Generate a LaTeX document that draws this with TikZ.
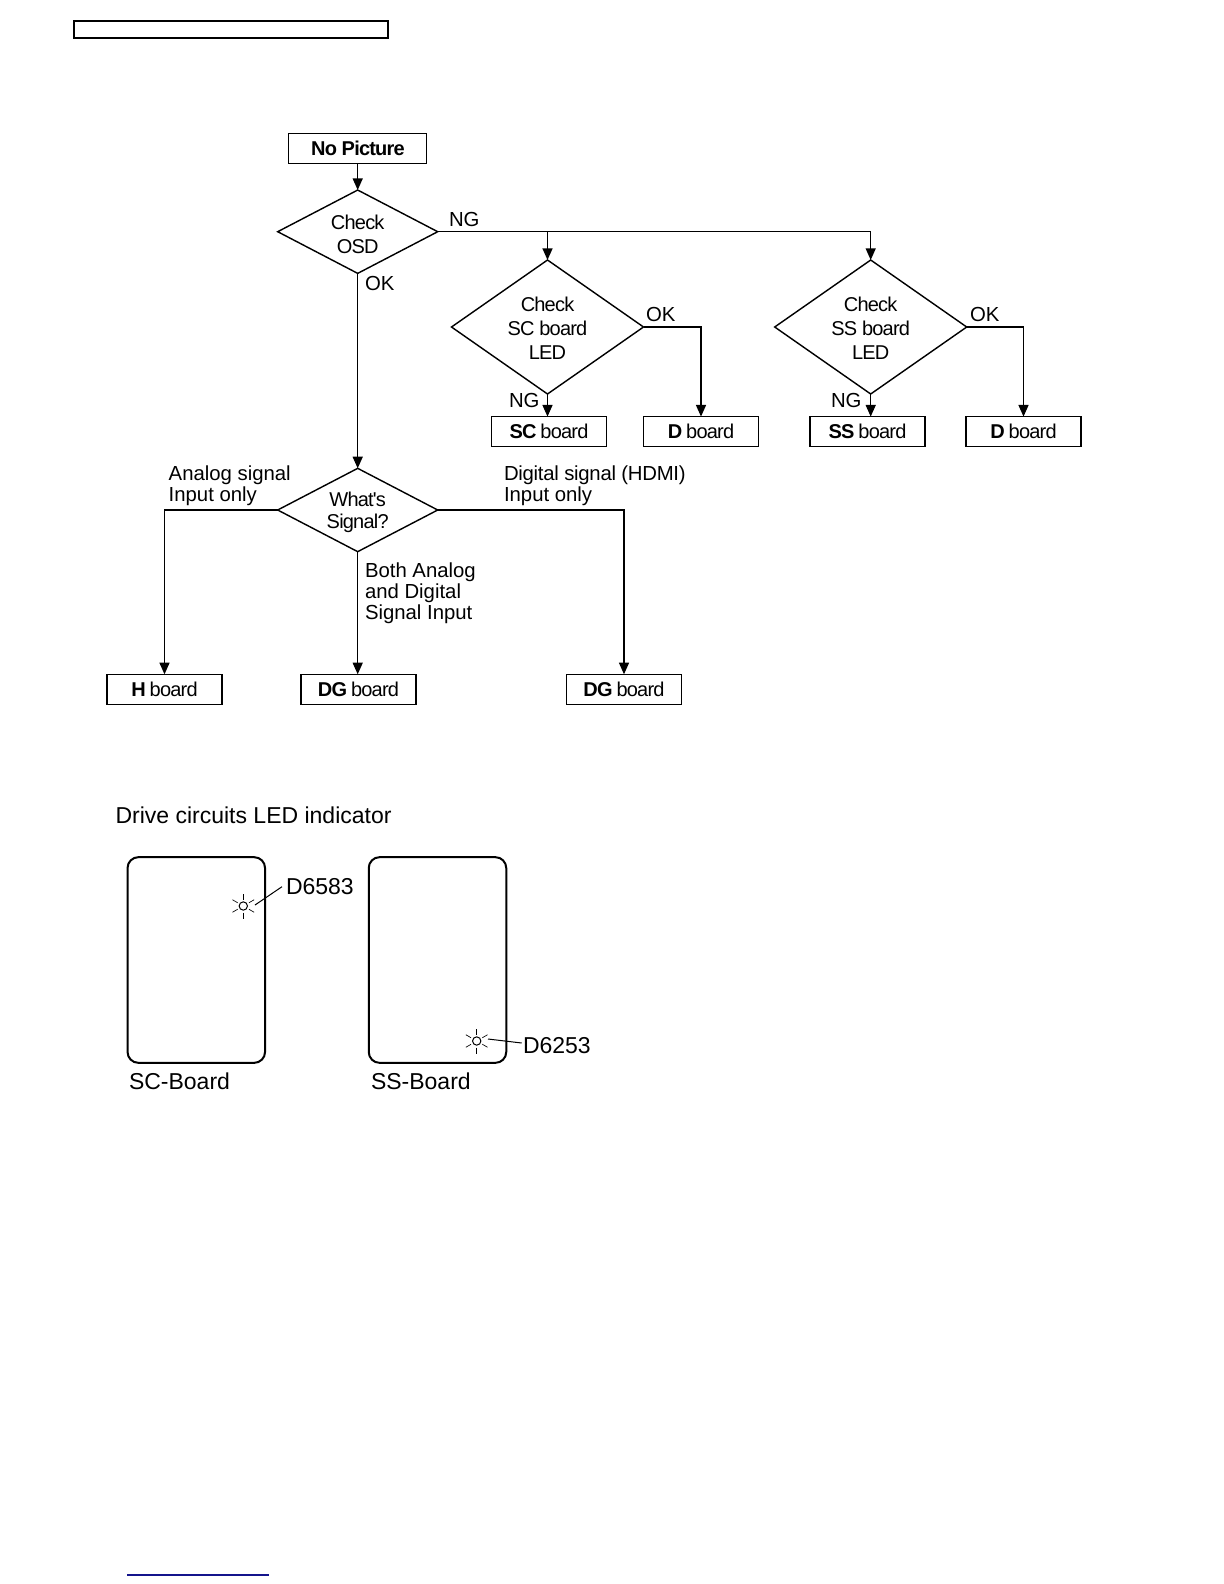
\documentclass[tikz,border=0pt]{standalone}
\usepackage{fontspec}
\setmainfont{Liberation Sans}
\newfontfamily\tightfont[LetterSpace=-4]{Liberation Sans}
\newfontfamily\slightfont[LetterSpace=-1.3]{Liberation Sans}
\newcommand{\decbody}[2][6.2pt]{\raisebox{-#1}[0pt][0pt]{\tightfont\begin{tabular}[c]{@{}c@{}}#2\end{tabular}}}
\usetikzlibrary{shapes.geometric,arrows.meta,calc}
\tikzset{
  x=0.6pt,y=-0.6pt,
  every node/.style={font=\fontsize{12.2}{13.9}\selectfont,inner sep=0pt,outer sep=0pt},
  flowbox/.style={draw,rectangle,line width=0.85pt,minimum width=69pt,minimum height=18pt,font=\fontsize{12}{13.9}\tightfont},
  startbox/.style={flowbox,minimum width=83pt},
  decision/.style={draw,diamond,line width=0.85pt,inner sep=0pt,font=\fontsize{12}{13.9}\tightfont},
  smalldec/.style={decision,minimum width=96pt,minimum height=50pt,shape aspect=1.92},
  bigdec/.style={decision,minimum width=115.2pt,minimum height=80.4pt,shape aspect=1.43},
  flow/.style={line width=0.85pt,-{Triangle[length=7pt,width=6pt]}},
  lbl/.style={anchor=base west,align=left},
  biglbl/.style={lbl,font=\fontsize{13.8}{15}\selectfont},
  boardbox/.style={draw,rectangle,rounded corners=6.5pt,line width=1.2pt,minimum width=82.5pt,minimum height=123.4pt},
  ledcore/.style={draw,circle,line width=0.6pt,minimum size=5pt},
  ray/.style={line width=0.4pt},
  leader/.style={line width=0.6pt},
}
\begin{document}
\begin{tikzpicture}
\useasboundingbox (0,0) rectangle (1224,1584);
\fill[white] (0,0) rectangle (1224,1584);
% header box and footer rule
\node[draw,rectangle,line width=1.2pt,minimum width=188.4pt,minimum height=9.9pt] (hdr) at (230.7,29.7) {};
\coordinate (fa) at (127,1575);
\coordinate (fb) at (269,1575);
\draw[line width=1pt,color={rgb,255:red,20;green,20;blue,140}] (fa) -- (fb);
% flow nodes
\node[startbox] (np) at (357.5,148.3) {\textbf{No Picture}};
\node[smalldec] (osd) at (357.7,231.7) {\decbody{Check\\[0.3pt]OSD}};
\node[bigdec] (sc) at (547.5,327) {\decbody[5.4pt]{Check\\[0.3pt]SC board\\[0.3pt]LED}};
\node[bigdec] (ss) at (870.7,327) {\decbody[5.4pt]{Check\\[0.3pt]SS board\\[0.3pt]LED}};
\node[flowbox] (scb) at (549,431.6) {\textbf{SC} board};
\node[flowbox] (db1) at (701,431.6) {\textbf{D} board};
\node[flowbox] (ssb) at (867.5,431.6) {\textbf{SS} board};
\node[flowbox] (db2) at (1023.5,431.6) {\textbf{D} board};
\node[smalldec] (sig) at (357.7,510) {\decbody[4.7pt]{What's\\[-1pt]Signal?}};
\node[flowbox] (hb) at (164.5,689.3) {\textbf{H} board};
\node[flowbox] (dg1) at (358.5,689.3) {\textbf{DG} board};
\node[flowbox] (dg2) at (624,689.3) {\textbf{DG} board};
% connectors
\draw[flow] (np.south -| osd.north) -- (osd.north);
\draw[flow] (osd.east) -| (ss.north);
\draw[flow] (osd.east -| sc.north) -- (sc.north);
\draw[flow] (osd.south) -- (sig.north);
\draw[flow] (sc.south) -- (scb.north -| sc.south);
\draw[flow] (sc.east) -| (db1.north);
\draw[flow] (ss.south) -- (ssb.north -| ss.south);
\draw[flow] (ss.east) -| (db2.north);
\draw[flow] (sig.west) -| (hb.north);
\draw[flow] (sig.south) -- (dg1.north -| sig.south);
\draw[flow] (sig.east) -| (dg2.north);
% connector labels
\node[lbl] (l1) at (449,226) {NG};
\node[lbl] (l2) at (365,290) {OK};
\node[lbl] (l3) at (646,321) {OK};
\node[lbl] (l4) at (970,321) {OK};
\node[lbl] (l5) at (509,407) {NG};
\node[lbl] (l6) at (831,407) {NG};
\node[lbl] (l7) at (168.7,480) {Analog signal};
\node[lbl] (l8) at (168.7,501) {Input only};
\node[lbl,font=\fontsize{12.2}{13.9}\slightfont] (l9) at (504,480) {Digital signal (HDMI)};
\node[lbl] (l10) at (504,501) {Input only};
\node[lbl] (l11) at (365,577) {Both Analog};
\node[lbl] (l12) at (365,598) {and Digital};
\node[lbl] (l13) at (365,619) {Signal Input};
% LED panel
\node[biglbl] (ttl) at (115.5,823) {Drive circuits LED indicator};
\node[boardbox] (bsc) at (196.3,960) {};
\node[boardbox] (bss) at (437.5,960) {};
\node[biglbl] (n1) at (129,1089) {SC-Board};
\node[biglbl] (n2) at (371,1089) {SS-Board};
\node[ledcore] (led1) at (243.3,906) {};
\node[ledcore] (led2) at (476.7,1041) {};
\foreach \l in {led1,led2}{
  \foreach \a in {30,90,150,210,270,330}{
    \draw[ray] ($(\l)+(\a:6.5 and -6.5)$) -- ($(\l)+(\a:12.5 and -12.5)$);
  }
}
\node[biglbl] (d1) at (286,894) {D6583};
\node[biglbl] (d2) at (523,1053) {D6253};
\coordinate (s1) at (255,905);
\coordinate (e1) at (282,886.7);
\coordinate (s2) at (488,1039);
\coordinate (e2) at (521.7,1043);
\draw[leader] (s1) -- (e1);
\draw[leader] (s2) -- (e2);
\end{tikzpicture}
\end{document}
